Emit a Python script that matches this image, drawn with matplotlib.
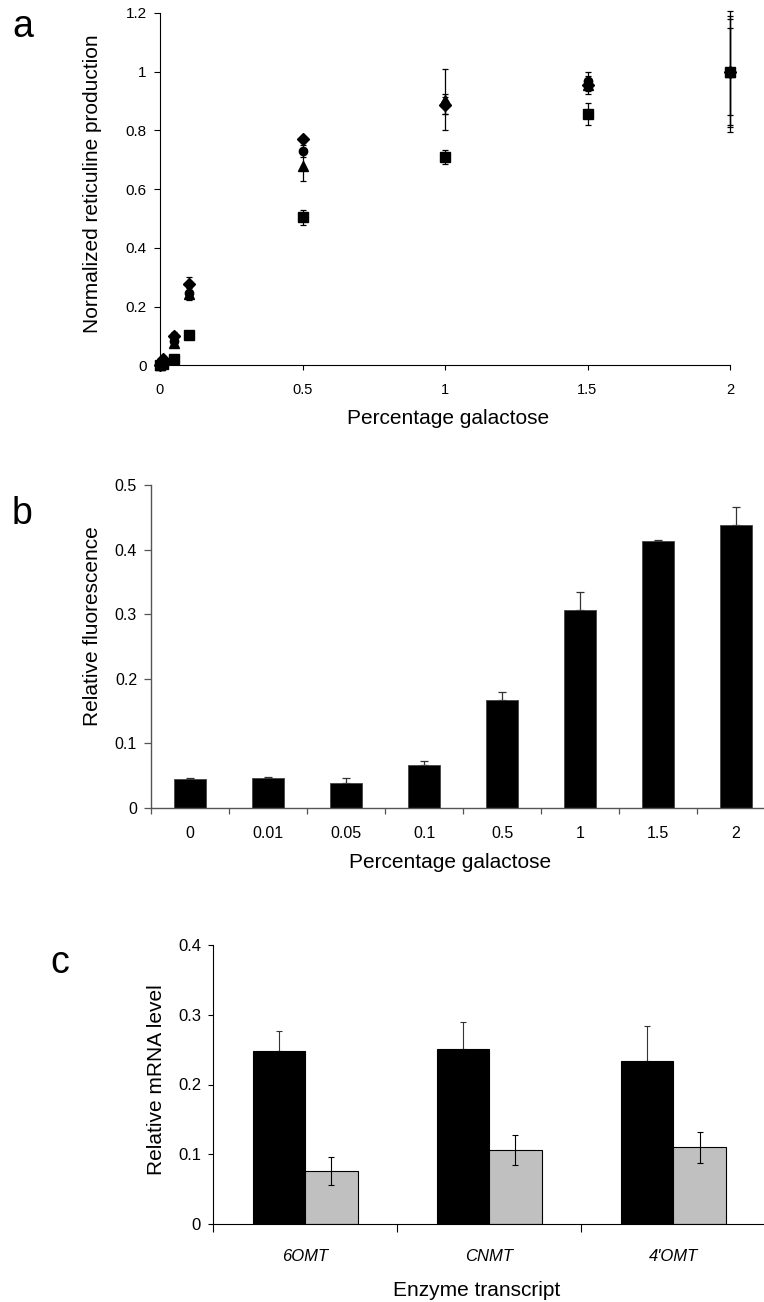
import matplotlib
matplotlib.use("Agg")
import matplotlib.pyplot as plt
import numpy as np

plt.rcParams['font.family'] = ['Liberation Sans', 'DejaVu Sans']

# ---------------- data ----------------
# panel a
gal_a = [0, 0.01, 0.05, 0.1, 0.5, 1, 1.5, 2]
diamond_vals = [0, 0.020, 0.099, 0.276, 0.770, 0.885, 0.955, 1.0]
diamond_err = [0, 0.005, 0.013, 0.024, 0.008, 0.030, 0.020, 0.190]
square_vals = [0, 0.005, 0.023, 0.104, 0.504, 0.710, 0.857, 1.0]
square_err = [0, 0.002, 0.003, 0.005, 0.025, 0.025, 0.037, 0.148]
triangle_vals = [0, 0.012, 0.075, 0.244, 0.680, 0.905, 0.955, 1.0]
triangle_err = [0, 0.005, 0.010, 0.020, 0.052, 0.105, 0.030, 0.207]
circle_vals = [0, 0.012, 0.082, 0.246, 0.730, 0.890, 0.970, 1.0]
circle_err = [0, 0.005, 0.010, 0.020, 0.020, 0.035, 0.030, 0.180]

# panel b
gal_b_labels = ['0', '0.01', '0.05', '0.1', '0.5', '1', '1.5', '2']
fluor_vals = [0.0448, 0.0463, 0.038, 0.066, 0.167, 0.306, 0.413, 0.438]
fluor_err = [0.002, 0.002, 0.008, 0.0066, 0.013, 0.029, 0.0025, 0.0275]

# panel c
enzymes = ['6OMT', 'CNMT', "4'OMT"]
black_vals = [0.2477, 0.2516, 0.233]
black_err = [0.0283, 0.0374, 0.0505]
gray_vals = [0.0759, 0.106, 0.110]
gray_err = [0.020, 0.021, 0.0225]

# ---------------- figure ----------------
W, H = 764, 1302
fig = plt.figure(figsize=(W / 100, H / 100), dpi=100)

def rect(l, r, t, b):
    return [l / W, 1 - b / H, (r - l) / W, (b - t) / H]

def ftext(x, y, s, **kw):
    return fig.text(x / W, 1 - y / H, s, **kw)

LABEL_FS = 15

# ---- panel a ----
axa = fig.add_axes(rect(160, 730, 13, 365.3))
markers = [('D', diamond_vals, diamond_err, 6),
           ('s', square_vals, square_err, 6.7),
           ('^', triangle_vals, triangle_err, 7.5),
           ('o', circle_vals, circle_err, 6)]
for m, v, e, ms in markers:
    axa.errorbar(gal_a, v, yerr=e, fmt=m, color='black', ms=ms, lw=0.9,
                 capsize=2, capthick=0.9, elinewidth=0.9, clip_on=False, zorder=3)
axa.set_xlim(0, 2)
axa.set_ylim(0, 1.2)
axa.set_xticks([0, 0.5, 1, 1.5, 2])
axa.set_xticklabels(['0', '0.5', '1', '1.5', '2'], fontsize=10.5)
axa.set_yticks([0, 0.2, 0.4, 0.6, 0.8, 1.0, 1.2])
axa.set_yticklabels(['0', '0.2', '0.4', '0.6', '0.8', '1', '1.2'], fontsize=11)
axa.tick_params(axis='y', direction='out', length=4.5, width=0.8, pad=5)
axa.tick_params(axis='x', direction='out', length=3.5, width=0.8, pad=9)
for s in ['top', 'right']:
    axa.spines[s].set_visible(False)
for s in ['left', 'bottom']:
    axa.spines[s].set_linewidth(0.8)
ftext(448, 418, 'Percentage galactose', fontsize=LABEL_FS, ha='center', va='center')
ftext(93, 184, 'Normalized reticuline production', fontsize=LABEL_FS,
      ha='center', va='center', rotation=90)
ftext(12.5, 37.3, 'a', fontsize=27, ha='left', va='baseline')

# ---- panel b ----
axb = fig.add_axes(rect(151, 775, 485, 808))
xb = np.arange(len(fluor_vals))
axb.bar(xb, fluor_vals, width=0.4, color='black', edgecolor='#444444', lw=0.6, zorder=2)
axb.errorbar(xb, fluor_vals, yerr=[np.zeros(len(fluor_err)), fluor_err], fmt='none',
             ecolor='#333333', elinewidth=0.9, capsize=3, capthick=0.9, zorder=1)
axb.set_xlim(-0.5, len(fluor_vals) - 0.5)
axb.set_ylim(0, 0.5)
axb.set_xticks(xb)
axb.set_xticklabels(gal_b_labels, fontsize=11.5)
axb.set_xticks(np.arange(-0.5, len(fluor_vals)), minor=True)
axb.tick_params(axis='x', which='major', length=0, pad=13)
axb.tick_params(axis='x', which='minor', direction='out', length=4, width=0.9, color='#555555')
axb.set_yticks([0, 0.1, 0.2, 0.3, 0.4, 0.5])
axb.set_yticklabels(['0', '0.1', '0.2', '0.3', '0.4', '0.5'], fontsize=11.5)
axb.tick_params(axis='y', direction='out', length=5, width=0.9, pad=5, color='#555555')
for s in ['top', 'right']:
    axb.spines[s].set_visible(False)
for s in ['left', 'bottom']:
    axb.spines[s].set_linewidth(1.0)
    axb.spines[s].set_color('#555555')
ftext(450, 862, 'Percentage galactose', fontsize=LABEL_FS, ha='center', va='center')
ftext(92, 626, 'Relative fluorescence', fontsize=LABEL_FS,
      ha='center', va='center', rotation=90)
ftext(11.5, 524, 'b', fontsize=27, ha='left', va='baseline')

# ---- panel c ----
axc = fig.add_axes(rect(213, 765.5, 945, 1224))
xc = np.arange(len(enzymes))
bw = 0.285
axc.bar(xc - bw / 2, black_vals, width=bw, color='black', edgecolor='black', lw=0.8, zorder=2)
axc.bar(xc + bw / 2, gray_vals, width=bw, color='#C0C0C0', edgecolor='black', lw=0.8, zorder=2)
axc.errorbar(xc - bw / 2, black_vals, yerr=[np.zeros(len(black_err)), black_err], fmt='none',
             ecolor='#333333', elinewidth=0.8, capsize=2.5, capthick=0.8, zorder=1)
axc.errorbar(xc + bw / 2, gray_vals, yerr=gray_err, fmt='none',
             ecolor='black', elinewidth=0.8, capsize=2.5, capthick=0.8, zorder=3)
axc.set_xlim(-0.5, len(enzymes) - 0.5)
axc.set_ylim(0, 0.4)
axc.set_xticks(xc)
axc.set_xticklabels(enzymes, fontsize=12, style='italic')
axc.set_xticks(np.arange(-0.5, len(enzymes)), minor=True)
axc.tick_params(axis='x', which='major', length=0, pad=18)
axc.tick_params(axis='x', which='minor', direction='out', length=5.5, width=0.8)
axc.set_yticks([0, 0.1, 0.2, 0.3, 0.4])
axc.set_yticklabels(['0', '0.1', '0.2', '0.3', '0.4'], fontsize=12)
axc.tick_params(axis='y', direction='out', length=3.6, width=0.8, pad=5)
for s in ['top', 'right']:
    axc.spines[s].set_visible(False)
for s in ['left', 'bottom']:
    axc.spines[s].set_linewidth(0.8)
ftext(477, 1291, 'Enzyme transcript', fontsize=LABEL_FS, ha='center', va='center')
ftext(156, 1080, 'Relative mRNA level', fontsize=LABEL_FS,
      ha='center', va='center', rotation=90)
ftext(50.3, 972.7, 'c', fontsize=27, ha='left', va='baseline')

fig.savefig('out.png', dpi=100)
